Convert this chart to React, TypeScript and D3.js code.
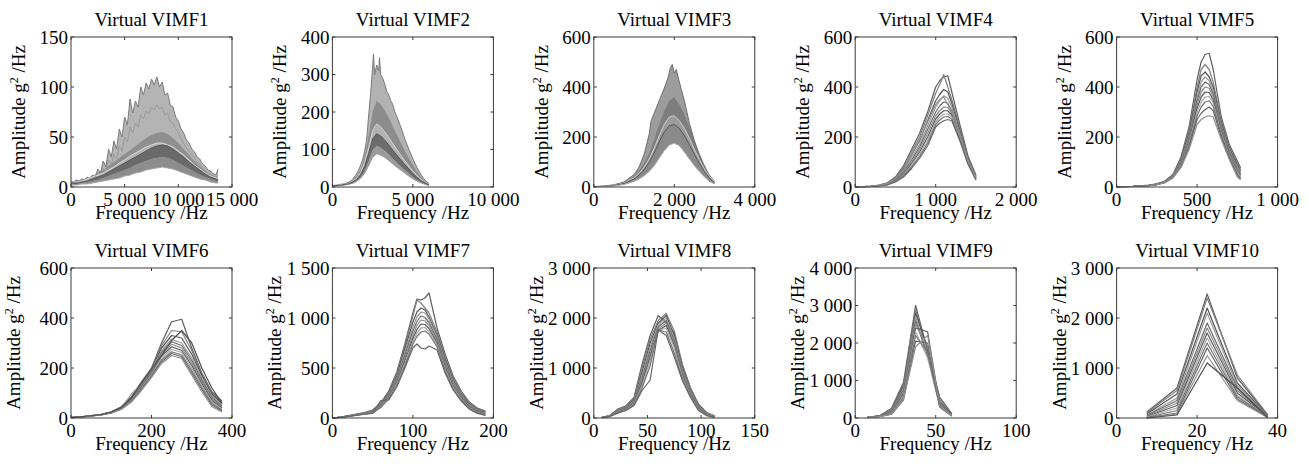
import React from "react";
import * as d3 from "d3";

// ---------------- VIMF1 ----------------
const f1 = [0,500,1000,1500,2000,2500,3000,3500,4000,4500,5000,5500,6000,6500,7000,7500,8000,8500,9000,9500,10000,10500,11000,11500,12000,12500,13000,13500,13700];
const v1Low = [2,2,3,3,4,5,6,7,8,9,11,12,14,15,17,18,19,20,19,18,16,14,12,10,8,7,5,4,4];
const v1B = [3,3,4,5,6,7,9,11,13,15,17,19,22,24,26,28,29,30,29,27,24,21,18,15,12,10,8,6,5];
const v1C = [4,4,5,6,8,10,12,15,18,21,24,27,30,33,36,39,41,42,41,38,34,30,25,21,17,13,10,8,7];
const v1White = [5,5,6,8,10,12,14,17,20,24,27,31,34,37,40,42,44,44,42,40,36,32,27,22,18,14,11,9,8];
const v1E = [6,6,7,9,11,14,17,21,25,29,33,37,41,45,49,52,54,55,53,49,44,38,32,26,21,16,12,10,9];
const f1u = [0,250,500,750,1000,1250,1500,1750,2000,2250,2500,2750,3000,3250,3500,3750,4000,4250,4500,4750,5000,5250,5500,5750,6000,6250,6500,6750,7000,7250,7500,7750,8000,8250,8500,8750,9000,9250,9500,9750,10000,10250,10500,10750,11000,11250,11500,11750,12000,12250,12500,12750,13000,13250,13500,13700];
const v1Up = [6,5,7,6,8,7,10,8,12,10,18,14,26,20,38,30,46,38,58,50,70,62,88,74,86,80,100,92,104,98,108,102,110,100,105,92,94,82,80,70,66,58,54,47,44,38,35,30,28,23,21,17,16,13,12,18];
const v1Mid = [5,5,6,6,7,7,9,8,10,9,14,12,19,16,27,22,33,28,41,36,50,45,60,54,64,60,72,68,76,73,80,77,82,78,80,72,74,66,64,58,54,48,44,39,36,32,29,25,23,19,17,14,13,11,10,12];

// ---------------- VIMF2 ----------------
const f2 = [0,500,1000,1250,1500,1750,2000,2250,2500,2750,3000,3250,3500,3750,4000,4250,4500,4750,5000,5250,5500,5750,6000];
const v2Low = [2,3,6,9,14,22,35,55,78,88,84,78,70,61,52,44,36,28,21,15,10,6,3];
const v2B = [2,4,7,10,16,26,42,68,98,110,105,97,87,76,65,55,45,36,27,19,13,8,4];
const v2C = [3,5,9,13,20,33,55,90,128,142,136,125,112,98,85,72,60,48,36,26,17,11,6];
const v2White = [3,6,10,15,23,38,65,105,150,168,160,147,132,116,100,85,70,56,43,31,21,13,7];
const v2E = [4,7,12,18,28,46,80,135,200,230,220,205,185,163,140,118,97,77,58,41,27,16,8];
const f2u = [0,250,500,750,1000,1250,1500,1625,1750,1875,2000,2125,2250,2375,2500,2550,2625,2750,2875,2925,3000,3125,3250,3375,3500,3625,3750,3875,4000,4250,4500,4750,5000,5250,5500,5750,6000];
const v2Up = [4,5,7,9,12,20,35,45,58,72,95,125,190,250,320,355,300,325,310,345,300,290,275,255,245,230,220,200,188,160,128,100,75,52,33,18,9];

// ---------------- VIMF3 ----------------
const f3 = [0,250,500,750,1000,1125,1250,1375,1500,1625,1750,1875,2000,2125,2250,2375,2500,2625,2750,2875,3000];
const v3Low = [1,2,4,10,22,32,45,62,85,115,145,168,175,165,140,112,85,62,40,22,12];
const v3B = [1,3,6,14,32,48,70,98,135,180,220,245,250,235,205,170,130,95,62,35,18];
const v3White = [2,3,7,16,36,55,80,112,155,205,250,280,285,265,235,195,150,110,72,42,22];
const v3D = [2,4,8,18,42,65,95,135,190,250,305,345,360,330,290,240,185,135,88,50,25];
const f3u = [0,250,500,750,1000,1125,1250,1375,1425,1500,1625,1750,1850,1900,1950,2000,2050,2125,2250,2375,2500,2625,2750,2875,3000];
const v3Up = [2,4,9,20,50,80,130,210,265,295,345,395,440,475,490,455,470,420,345,255,185,125,80,42,20];

// ---------------- VIMF4 ----------------
const f4 = [0,100,200,300,400,500,600,700,800,900,1000,1050,1100,1150,1200,1300,1400,1500];
const v4 = [
  [1,2,4,8,17,40,85,150,215,300,400,425,440,445,380,250,125,48],
  [1,2,4,8,16,38,80,140,200,285,375,410,450,400,350,235,118,45],
  [1,2,3,7,15,35,72,128,185,265,345,370,390,380,335,225,112,42],
  [1,2,3,7,14,32,66,118,170,245,320,345,365,355,320,215,108,40],
  [1,1,3,6,13,30,60,108,160,230,300,325,340,335,305,210,105,38],
  [1,1,3,6,12,28,56,100,150,215,285,305,320,318,295,205,102,36],
  [1,1,3,6,11,26,52,94,140,200,272,292,305,305,288,200,100,34],
  [1,1,2,5,10,24,48,86,130,188,260,280,292,292,280,195,98,32],
  [1,1,2,5,9,22,44,80,122,176,250,268,280,282,272,190,95,30],
  [1,1,2,4,8,20,40,74,115,165,240,255,265,270,265,185,92,28],
  [1,2,3,7,14,34,68,130,190,260,330,350,360,330,300,210,105,38],
];

// ---------------- VIMF5 ----------------
const f5 = [0,100,200,250,300,350,400,450,500,525,550,575,600,650,700,750,770];
const v5 = [
  [1,3,8,13,24,50,120,240,430,500,530,535,470,280,170,104,77],
  [1,3,7,12,22,47,112,225,400,470,490,470,420,265,160,95,70],
  [1,3,7,12,22,46,108,215,380,445,460,440,400,255,155,88,64],
  [1,2,6,11,21,44,104,205,360,420,440,425,385,245,148,80,58],
  [1,2,6,11,20,43,100,198,345,400,420,410,372,238,142,74,53],
  [1,2,6,10,20,42,96,190,330,380,400,395,360,230,136,68,49],
  [1,2,6,10,19,41,92,182,315,360,380,378,348,222,130,62,45],
  [1,2,5,10,19,40,88,175,300,340,360,362,336,215,125,56,41],
  [1,2,5,9,18,38,84,168,285,320,340,345,322,208,120,50,36],
  [1,2,5,9,18,37,80,160,270,295,310,320,305,200,115,45,32],
  [1,2,5,9,17,36,78,150,250,270,280,285,280,190,110,40,29],
];

// ---------------- VIMF6 ----------------
const f6 = [0,25,50,75,100,125,150,175,200,225,250,275,300,325,350,375];
const v6 = [
  [2,5,10,15,25,45,85,145,200,300,385,395,280,180,105,68],
  [2,5,10,15,24,44,82,140,198,290,350,345,270,175,100,62],
  [2,5,9,14,24,42,80,138,195,280,330,320,255,170,95,58],
  [2,5,9,14,23,41,96,135,192,270,315,300,240,160,88,52],
  [2,4,9,14,23,40,76,132,188,262,305,290,230,152,82,48],
  [2,4,9,13,22,39,74,128,184,255,295,280,220,145,76,44],
  [2,4,8,13,22,38,72,124,180,248,285,270,210,138,70,40],
  [2,4,8,13,21,37,70,120,175,240,275,262,200,130,64,36],
  [2,4,8,12,21,36,68,117,170,232,265,252,190,122,58,32],
  [2,4,8,12,20,35,66,114,166,225,258,245,180,114,52,28],
  [2,4,8,12,20,35,64,110,162,218,250,238,172,105,46,24],
  [2,5,9,14,23,42,80,140,195,250,310,350,300,200,120,60],
];

// ---------------- VIMF7 ----------------
const f7 = [0,10,20,30,40,50,60,70,80,90,100,105,110,115,120,130,140,150,160,170,180,190];
const v7 = [
  [0,10,25,40,55,80,150,270,460,740,1050,1190,1180,1200,1250,900,640,420,270,160,100,70],
  [0,10,22,38,52,76,140,255,440,720,1020,1180,1150,1100,1050,860,610,400,255,150,95,62],
  [0,8,20,35,50,72,130,245,420,690,960,1060,1100,1080,1010,830,590,380,240,140,88,56],
  [0,8,20,35,48,68,125,235,400,660,910,1010,1060,1050,990,810,570,365,230,132,82,50],
  [0,8,18,32,46,64,120,225,385,630,870,965,1020,1005,955,790,550,350,220,125,76,45],
  [0,8,18,32,45,60,115,215,370,600,830,925,980,970,925,770,530,335,210,118,70,40],
  [0,7,18,30,44,56,112,205,355,570,795,885,940,935,895,750,510,320,200,110,64,36],
  [0,7,16,30,42,52,108,198,342,545,765,850,900,905,865,730,490,305,190,102,58,32],
  [0,7,16,28,40,48,104,190,328,520,740,815,860,870,840,710,470,290,180,95,52,28],
  [0,6,15,26,38,45,175,180,310,500,700,740,700,690,720,680,450,280,170,88,46,25],
];

// ---------------- VIMF8 ----------------
const f8 = [7.5,15,22.5,30,37.5,45,52.5,60,67.5,75,82.5,90,97.5,105,112.5];
const v8 = [
  [15,50,180,245,410,1075,1650,2050,1900,1700,1060,600,275,110,40],
  [15,50,160,230,390,1000,1580,1950,2090,1740,1075,610,270,108,42],
  [12,45,140,215,370,920,1500,1900,2050,1650,1000,570,250,100,36],
  [12,45,130,205,350,860,1420,1860,2000,1600,960,545,235,92,32],
  [10,40,120,195,330,800,1350,1820,1950,1550,920,520,220,85,28],
  [10,40,115,185,310,750,1280,1780,1900,1500,880,495,205,78,25],
  [10,38,110,175,295,700,1220,1750,1850,1450,850,470,190,70,22],
  [10,36,105,165,280,650,1150,1740,1800,1400,820,450,175,62,20],
  [8,34,100,155,265,600,1050,1760,1720,1300,780,430,160,55,16],
  [8,32,100,150,250,550,760,1760,1650,1220,750,415,150,48,13],
];

// ---------------- VIMF9 ----------------
const f9 = [7.5,15,22.5,30,37.5,45,52.5,60];
const v9 = [
  [20,60,250,950,3000,1800,550,120],
  [18,55,230,900,2900,1750,480,110],
  [18,55,210,850,2800,1850,420,100],
  [15,50,190,800,2700,1700,380,90],
  [15,50,170,750,2600,1650,360,80],
  [15,45,150,700,2500,1900,340,70],
  [12,45,130,650,2400,2300,330,65],
  [12,40,120,600,2300,1600,310,60],
  [12,40,110,550,2200,1750,300,55],
  [10,35,100,480,2050,2000,290,50],
  [10,35,100,500,1900,2200,320,60],
];

// ---------------- VIMF10 ----------------
const f10 = [7.5,15,22.5,30,37.5];
const v10 = [
  [120,600,2480,800,60],
  [100,550,2400,860,70],
  [80,480,2200,700,50],
  [60,400,2100,650,45],
  [50,350,1900,600,40],
  [40,300,1800,550,35],
  [30,250,1700,500,30],
  [20,200,1600,450,25],
  [10,150,1500,420,20],
  [5,100,1400,380,15],
  [0,80,1250,350,10],
  [0,60,1100,600,10],
];

// ---------------- axes ----------------
const titles = ["Virtual VIMF1","Virtual VIMF2","Virtual VIMF3","Virtual VIMF4","Virtual VIMF5","Virtual VIMF6","Virtual VIMF7","Virtual VIMF8","Virtual VIMF9","Virtual VIMF10"];
const xMaxes = [15000,10000,4000,2000,1000,400,200,150,100,40];
const xTickSets = [[0,5000,10000,15000],[0,5000,10000],[0,2000,4000],[0,1000,2000],[0,500,1000],[0,200,400],[0,100,200],[0,50,100,150],[0,50,100],[0,20,40]];
const yMaxes = [150,400,600,600,600,600,1500,3000,4000,3000];
const yTickSets = [[0,50,100,150],[0,100,200,300,400],[0,200,400,600],[0,200,400,600],[0,200,400,600],[0,200,400,600],[0,500,1000,1500],[0,1000,2000,3000],[0,1000,2000,3000,4000],[0,1000,2000,3000]];

const FONT = "'Liberation Serif','Times New Roman',Times,serif";
const FS = 19;
const PW = 161;
const PH = 150;
const LEFT0 = 71;
const DX = 261.4;
const TOPS = [37, 268];
const LINE_COLORS = ["#5e5e5e","#808080","#555555","#9a9a9a","#6b6b6b","#8a8a8a","#5a5a5a","#a8a8a8","#737373","#666666","#919191","#4f4f4f"];

type Series = { x: number[]; y: number[] };
type AreaSpec = { top: Series; bottom: Series; fill: string; opacity?: number };
type LineSpec = { s: Series; stroke: string; width?: number };

const S = (x: number[], y: number[]): Series => ({ x, y });

const bandLayers: { areas: AreaSpec[]; lines: LineSpec[] }[] = [
  {
    areas: [
      { top: S(f1u, v1Up), bottom: S(f1, v1Low), fill: "#b4b4b4" },
      { top: S(f1, v1E), bottom: S(f1, v1White), fill: "#8f8f8f" },
      { top: S(f1, v1C), bottom: S(f1, v1B), fill: "#6a6a6a" },
      { top: S(f1, v1B), bottom: S(f1, v1Low), fill: "#8d8d8d" },
    ],
    lines: [
      { s: S(f1u, v1Mid), stroke: "#9a9a9a" },
      { s: S(f1u, v1Up), stroke: "#7a7a7a" },
      { s: S(f1, v1White), stroke: "#dadada" },
      { s: S(f1, v1C), stroke: "#555555" },
      { s: S(f1, v1Low), stroke: "#a8a8a8" },
    ],
  },
  {
    areas: [
      { top: S(f2u, v2Up), bottom: S(f2, v2Low), fill: "#b2b2b2" },
      { top: S(f2, v2E), bottom: S(f2, v2White), fill: "#8c8c8c" },
      { top: S(f2, v2C), bottom: S(f2, v2B), fill: "#6c6c6c" },
      { top: S(f2, v2B), bottom: S(f2, v2Low), fill: "#9a9a9a" },
    ],
    lines: [
      { s: S(f2u, v2Up), stroke: "#7a7a7a" },
      { s: S(f2, v2White), stroke: "#d6d6d6" },
      { s: S(f2, v2C), stroke: "#555555" },
    ],
  },
  {
    areas: [
      { top: S(f3u, v3Up), bottom: S(f3, v3Low), fill: "#9c9c9c" },
      { top: S(f3, v3D), bottom: S(f3, v3White), fill: "#7e7e7e" },
      { top: S(f3, v3B), bottom: S(f3, v3Low), fill: "#8a8a8a" },
    ],
    lines: [
      { s: S(f3u, v3Up), stroke: "#6e6e6e" },
      { s: S(f3, v3White), stroke: "#d0d0d0" },
      { s: S(f3, v3B), stroke: "#555555" },
      { s: S(f3, v3Low), stroke: "#b0b0b0" },
    ],
  },
];

const multi: [number[], number[][]][] = [
  [f4, v4], [f5, v5], [f6, v6], [f7, v7], [f8, v8], [f9, v9], [f10, v10],
];

const fmt = (v: number) => d3.format(",")(v).replace(/,/g, " ");

function Panel({ i }: { i: number }) {
  const row = i < 5 ? 0 : 1;
  const col = i % 5;
  const left = LEFT0 + DX * col;
  const top = TOPS[row];
  const x = d3.scaleLinear().domain([0, xMaxes[i]]).range([left, left + PW]);
  const y = d3.scaleLinear().domain([0, yMaxes[i]]).range([top + PH, top]);
  const lineGen = d3.line<[number, number]>().x((d) => x(d[0])).y((d) => y(d[1]));
  const pts = (s: Series): [number, number][] => s.x.map((v, k) => [v, s.y[k]] as [number, number]);

  let areas: AreaSpec[] = [];
  let lines: LineSpec[] = [];
  if (i < 3) {
    areas = bandLayers[i].areas;
    lines = bandLayers[i].lines;
  } else {
    const [fx, ys] = multi[i - 3];
    lines = ys.map((yy, k) => ({ s: S(fx, yy), stroke: LINE_COLORS[k % LINE_COLORS.length], width: 1.2 }));
  }

  const tick = 3;
  const ylOff = row === 0 ? 46 : 51;
  return (
    <g>
      {areas.map((a, k) => (
        <path key={"a" + k} d={(lineGen(pts(a.top).concat(pts(a.bottom).reverse())) || "") + "Z"} fill={a.fill} fillOpacity={a.opacity ?? 1} stroke="none" />
      ))}
      {lines.map((l, k) => (
        <path key={"l" + k} d={lineGen(pts(l.s)) || ""} fill="none" stroke={l.stroke} strokeWidth={l.width ?? 1} strokeLinejoin="round" />
      ))}
      <rect x={left} y={top} width={PW} height={PH} fill="none" stroke="#3a3a3a" strokeWidth={1} />
      {xTickSets[i].map((t) => (
        <g key={"xt" + t}>
          <line x1={x(t)} x2={x(t)} y1={top + PH} y2={top + PH - tick} stroke="#3a3a3a" />
          <line x1={x(t)} x2={x(t)} y1={top} y2={top + tick} stroke="#3a3a3a" />
          <text x={x(t)} y={top + PH + 19} textAnchor="middle" fontFamily={FONT} fontSize={FS} fill="#000">{fmt(t)}</text>
        </g>
      ))}
      {yTickSets[i].map((t) => (
        <g key={"yt" + t}>
          <line x1={left} x2={left + tick} y1={y(t)} y2={y(t)} stroke="#3a3a3a" />
          <line x1={left + PW} x2={left + PW - tick} y1={y(t)} y2={y(t)} stroke="#3a3a3a" />
          <text x={left - 3} y={y(t)} dy="0.35em" textAnchor="end" fontFamily={FONT} fontSize={FS} fill="#000">{fmt(t)}</text>
        </g>
      ))}
      <text x={left + PW / 2} y={top - 11} textAnchor="middle" fontFamily={FONT} fontSize={FS} fill="#000">{titles[i]}</text>
      <text x={left + PW / 2} y={top + PH + 32} textAnchor="middle" fontFamily={FONT} fontSize={FS} fill="#000">Frequency /Hz</text>
      <text transform={`translate(${left - ylOff},${top + PH / 2}) rotate(-90)`} textAnchor="middle" fontFamily={FONT} fontSize={FS} fill="#000">
        Amplitude g<tspan dy={-7} fontSize={12}>2</tspan><tspan dy={7}> /Hz</tspan>
      </text>
    </g>
  );
}

export default function App() {
  return (
    <svg width={1308} height={468} style={{ position: "absolute", left: 0, top: 0, background: "#fff" }}>
      <rect x={0} y={0} width={1308} height={468} fill="#fff" />
      {titles.map((_, i) => (
        <Panel key={i} i={i} />
      ))}
    </svg>
  );
}
